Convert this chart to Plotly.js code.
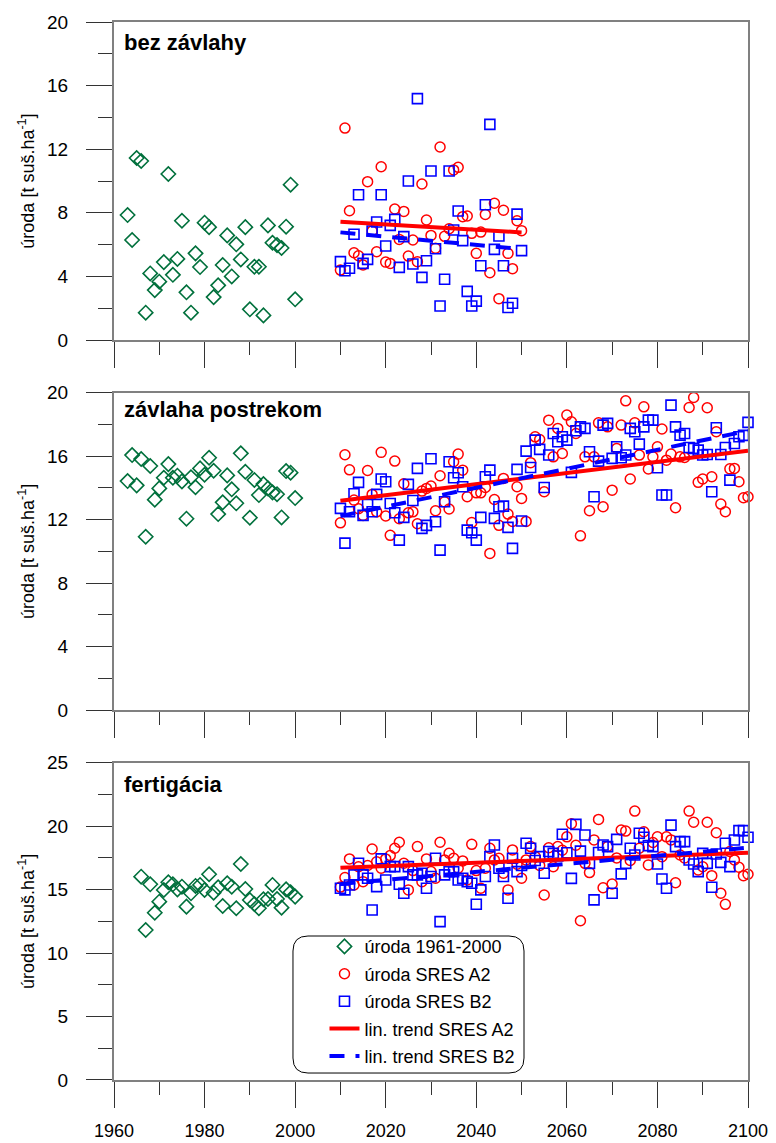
<!DOCTYPE html>
<html>
<head>
<meta charset="utf-8">
<script src="https://cdn.plot.ly/plotly-3.0.1.min.js"></script>
<style>html,body{margin:0;padding:0;background:#fff}</style>
</head>
<body>
<div id="chart" style="width:776px;height:1143px"></div>
<script>
// ---------- DATA ----------
const obsYears12 = [1963,1964,1965,1966,1967,1968,1969,1970,1971,1972,1973,1974,1975,1976,1977,1978,1979,1980,1981,1982,1983,1984,1985,1986,1987,1988,1989,1990,1991,1992,1993,1994,1995,1996,1997,1998,1999,2000];
const obsYears3 = [1966,1967,1968,1969,1970,1971,1972,1973,1974,1975,1976,1977,1978,1979,1980,1981,1982,1983,1984,1985,1986,1987,1988,1989,1990,1991,1992,1993,1994,1995,1996,1997,1998,1999,2000];
const futYears1 = [2010,2011,2012,2013,2014,2015,2016,2017,2018,2019,2020,2021,2022,2023,2024,2025,2026,2027,2028,2029,2030,2031,2032,2033,2034,2035,2036,2037,2038,2039,2040,2041,2042,2043,2044,2045,2046,2047,2048,2049,2050];
const futYears23 = [2010,2011,2012,2013,2014,2015,2016,2017,2018,2019,2020,2021,2022,2023,2024,2025,2026,2027,2028,2029,2030,2031,2032,2033,2034,2035,2036,2037,2038,2039,2040,2041,2042,2043,2044,2045,2046,2047,2048,2049,2050,2051,2052,2053,2054,2055,2056,2057,2058,2059,2060,2061,2062,2063,2064,2065,2066,2067,2068,2069,2070,2071,2072,2073,2074,2075,2076,2077,2078,2079,2080,2081,2082,2083,2084,2085,2086,2087,2088,2089,2090,2091,2092,2093,2094,2095,2096,2097,2098,2099,2100];
const trendYears1 = [2010, 2050];
const trendYears23 = [2010, 2100];

// Panel 1: bez závlahy
const obs1 = [7.86,6.29,11.45,11.26,1.72,4.19,3.14,3.67,4.9,10.44,4.1,5.1,7.5,3.0,1.72,5.45,4.59,7.38,7.1,2.7,3.44,4.72,6.58,4.0,6.02,5.07,7.1,1.93,4.61,4.61,1.55,7.21,6.12,5.97,5.79,7.13,9.77,2.56];
const a2_1 = [4.4,13.33,8.13,5.49,5.3,4.72,9.96,6.86,5.55,10.9,4.9,4.82,8.24,6.33,8.09,5.28,6.29,4.93,9.81,7.55,6.58,5.77,12.14,6.52,7.0,10.7,10.86,7.76,7.8,6.71,5.45,6.79,7.9,4.23,8.6,2.6,8.16,5.45,4.49,7.5,6.88];
const b2_1 = [4.93,4.36,4.51,6.65,9.14,4.82,5.07,6.86,7.42,9.14,5.91,7.21,7.59,4.57,6.5,10.0,4.78,15.18,3.94,4.99,10.63,5.74,2.14,3.82,10.63,6.92,8.11,6.25,3.06,2.14,2.45,4.67,8.51,13.56,5.7,6.54,4.67,2.05,2.31,7.92,5.62];
const trendA2_1 = [7.44, 6.77];
const trendB2_1 = [6.77, 5.72];

// Panel 2: závlaha postrekom
const obs2 = [14.43,16.07,14.16,15.82,10.92,15.38,13.26,13.97,14.64,15.5,14.64,14.77,14.41,12.06,14.67,14.04,15.23,14.83,15.9,15.08,12.35,13.09,14.79,13.91,13.03,16.18,15.02,12.12,14.5,13.55,14.24,13.97,13.72,13.6,12.14,15.06,14.96,13.36];
const a2_2 = [11.8,16.09,15.14,13.23,12.69,12.26,15.1,13.59,12.49,16.24,12.23,11.01,15.69,12.06,14.26,12.43,12.49,11.74,13.8,13.97,14.12,12.56,14.77,13.12,12.67,15.65,16.13,15.12,13.44,11.82,13.69,13.69,14.03,9.87,13.27,11.64,14.6,12.35,11.89,14.07,13.34,11.89,15.59,17.22,17.05,13.76,18.27,15.96,17.75,16.17,18.59,18.17,17.43,10.98,15.96,12.56,15.96,18.1,12.81,17.85,13.86,16.49,17.96,19.49,14.56,18.1,16.07,19.11,15.19,15.96,16.59,17.71,15.75,16.13,12.75,15.96,15.92,19.07,19.7,14.35,14.56,19.05,14.7,17.54,12.98,12.5,15.2,15.23,14.39,13.38,13.44];
const b2_2 = [12.71,10.52,12.5,13.63,14.35,12.27,12.96,12.5,13.59,14.56,14.39,13.02,12.43,10.71,12.14,14.22,13.21,15.23,11.45,11.64,15.84,11.87,10.08,13.13,15.65,14.64,14.96,14.07,11.34,11.17,10.71,12.14,14.7,15.12,12.08,12.81,12.85,11.51,10.19,15.17,11.91,16.32,15.29,17.01,16.43,14.03,16.07,17.43,16.91,17.22,17.01,14.98,17.6,17.85,17.75,16.28,13.44,15.69,17.96,18.07,15.86,16.59,15.9,16.07,17.75,17.54,16.76,17.85,18.27,18.27,15.27,13.55,13.55,19.22,17.85,17.33,17.43,16.55,16.49,16.38,16.07,16.11,13.76,17.79,16.11,16.55,14.49,16.8,17.22,17.31,18.13];
const trendA2_2 = [13.19, 16.34];
const trendB2_2 = [12.22, 17.6];

// Panel 3: fertigácia
const obs3 = [16.02,11.82,15.42,13.18,14.05,14.97,15.58,15.42,15.02,15.23,13.66,14.71,15.29,15.37,14.97,16.21,14.76,15.18,13.71,15.5,15.23,13.53,17.02,15.05,14.18,13.87,13.53,14.24,14.26,15.37,14.26,13.58,15.02,14.79,14.45];
const a2_3 = [15.2,15.95,17.42,15.37,16.8,15.63,16.9,18.2,17.2,16.68,17.42,17.68,18.26,18.73,17.08,14.98,16.5,18.39,15.63,17.42,16.42,15.9,18.73,17.34,17.87,17.47,16.68,17.26,15.76,18.57,16.5,15.11,16.68,18.26,17.34,17.47,16.3,14.98,18.13,17.0,15.9,17.34,18.39,17.6,16.9,14.58,18.3,16.8,18.4,18.1,19.16,20.2,18.5,12.55,17.07,16.34,18.92,20.53,15.15,18.4,15.44,17.5,19.69,19.61,17.3,21.19,18.26,19.56,16.95,18.71,19.16,17.6,19.16,18.92,15.54,17.73,17.5,21.19,20.31,16.55,16.8,20.31,16.1,19.48,14.71,13.84,18.0,17.34,16.76,16.1,16.21];
const b2_3 = [15.11,14.98,15.37,16.16,17.08,16.16,15.9,13.4,15.24,17.42,15.76,16.81,16.81,15.42,14.71,16.81,16.16,16.16,16.29,15.11,16.03,17.47,12.48,16.16,16.42,16.42,15.76,15.9,15.63,15.5,13.85,14.98,16.03,17.6,18.52,16.68,16.03,14.32,17.47,16.42,16.9,18.65,18.26,17.3,17.6,16.29,18.0,17.86,17.65,19.36,17.9,15.89,20.14,18.03,19.31,17.07,14.19,17.92,18.52,18.39,14.71,18.96,16.24,17.07,18.26,17.73,19.44,19.13,18.47,18.39,17.02,15.84,15.11,20.08,18.39,18.78,18.78,17.34,17.02,16.42,17.86,17.07,15.19,17.81,17.15,18.65,16.81,18.91,19.65,19.65,19.13];
const trendA2_3 = [16.73, 17.91];
const trendB2_3 = [15.45, 18.3];

const panelLabels = ['bez závlahy', 'závlaha postrekom', 'fertigácia'];
const seriesNames = ['úroda 1961-2000', 'úroda SRES A2', 'úroda SRES B2', 'lin. trend SRES A2', 'lin. trend SRES B2'];
const yTitle = 'úroda [t suš.ha<sup>-1</sup>]';

// ---------- STYLE ----------
const FONT = 'Arial, "Liberation Sans", sans-serif';
const GREEN = '#00703c', RED = '#ff0000', BLUE = '#0000ff';

const panels = [
  {obsX: obsYears12, obs: obs1, futX: futYears1, a2: a2_1, b2: b2_1, tX: trendYears1, tA: trendA2_1, tB: trendB2_1},
  {obsX: obsYears12, obs: obs2, futX: futYears23, a2: a2_2, b2: b2_2, tX: trendYears23, tA: trendA2_2, tB: trendB2_2},
  {obsX: obsYears3, obs: obs3, futX: futYears23, a2: a2_3, b2: b2_3, tX: trendYears23, tA: trendA2_3, tB: trendB2_3}
];

const traces = [];
panels.forEach((p, i) => {
  const xa = i === 0 ? 'x' : 'x' + (i + 1);
  const ya = i === 0 ? 'y' : 'y' + (i + 1);
  const show = i === 2;
  traces.push({x: p.obsX, y: p.obs, xaxis: xa, yaxis: ya, type: 'scatter', mode: 'markers', cliponaxis: false,
    name: seriesNames[0], legendgroup: 'g1', showlegend: show,
    marker: {symbol: 'diamond-open', size: 11, color: GREEN, line: {width: 1.6, color: GREEN}}});
  traces.push({x: p.futX, y: p.a2, xaxis: xa, yaxis: ya, type: 'scatter', mode: 'markers', cliponaxis: false,
    name: seriesNames[1], legendgroup: 'g2', showlegend: show,
    marker: {symbol: 'circle-open', size: 10, color: RED, line: {width: 1.5, color: RED}}});
  traces.push({x: p.futX, y: p.b2, xaxis: xa, yaxis: ya, type: 'scatter', mode: 'markers', cliponaxis: false,
    name: seriesNames[2], legendgroup: 'g3', showlegend: show,
    marker: {symbol: 'square-open', size: 10, color: BLUE, line: {width: 1.6, color: BLUE}}});
  traces.push({x: p.tX, y: p.tA, xaxis: xa, yaxis: ya, type: 'scatter', mode: 'lines', cliponaxis: false,
    name: seriesNames[3], legendgroup: 'g4', showlegend: show,
    line: {color: RED, width: 4}});
  traces.push({x: p.tX, y: p.tB, xaxis: xa, yaxis: ya, type: 'scatter', mode: 'lines', cliponaxis: false,
    name: seriesNames[4], legendgroup: 'g5', showlegend: show,
    line: {color: BLUE, width: 4, dash: '15px,11px'}});
});

function xAxis(showLabels) {
  return {
    range: [1960, 2100], showgrid: false, zeroline: false,
    showline: true, mirror: true, linecolor: '#808080', linewidth: 2,
    ticks: 'outside', ticklen: 26, tickwidth: 1, tickcolor: '#333',
    tick0: 1960, dtick: 20, showticklabels: showLabels, ticklabelstandoff: 7,
    tickfont: {family: FONT, size: 18, color: '#000'},
    minor: {ticks: 'outside', ticklen: 13, tickwidth: 1, tickcolor: '#333', dtick: 10, showgrid: false}
  };
}
function yAxis(domain, max, major, minor) {
  return {
    domain: domain, range: [0, max], showgrid: false, zeroline: false,
    showline: true, mirror: true, linecolor: '#808080', linewidth: 2,
    ticks: 'outside', ticklen: 26, tickwidth: 1, tickcolor: '#333',
    tick0: 0, dtick: major, ticklabelstandoff: 14,
    tickfont: {family: FONT, size: 19, color: '#000'},
    minor: {ticks: 'outside', ticklen: 14, tickwidth: 1, tickcolor: '#333', dtick: minor, showgrid: false},
    title: {text: yTitle, font: {family: FONT, size: 18, color: '#000'}, standoff: 8}
  };
}

// plot area in px: 634 x 1058
const PW = 634, PH = 1058;
function roundRect(x0, x1, y0, y1, rpx) {
  const rx = rpx / PW, ry = rpx / PH;
  return `M${x0 + rx},${y1} L${x1 - rx},${y1} Q${x1},${y1} ${x1},${y1 - ry} L${x1},${y0 + ry} Q${x1},${y0} ${x1 - rx},${y0} L${x0 + rx},${y0} Q${x0},${y0} ${x0},${y0 + ry} L${x0},${y1 - ry} Q${x0},${y1} ${x0 + rx},${y1} Z`;
}

const labelY = [0.935, 0.948, 0.93];
const annotations = panelLabels.map((t, i) => ({
  text: '<b>' + t + '</b>', xref: (i === 0 ? 'x' : 'x' + (i + 1)) + ' domain', yref: (i === 0 ? 'y' : 'y' + (i + 1)) + ' domain',
  x: 0.012, y: labelY[i], xanchor: 'left', yanchor: 'middle', showarrow: false,
  font: {family: FONT, size: 22, color: '#000'}
}));

const layout = {
  width: 776, height: 1143,
  margin: {l: 114, r: 28, t: 22, b: 63},
  paper_bgcolor: '#fff', plot_bgcolor: '#fff',
  font: {family: FONT, color: '#000'},
  xaxis: Object.assign(xAxis(false), {anchor: 'y'}),
  xaxis2: Object.assign(xAxis(false), {anchor: 'y2'}),
  xaxis3: Object.assign(xAxis(true), {anchor: 'y3'}),
  yaxis: Object.assign(yAxis([0.6994, 1.0], 20, 4, 2), {anchor: 'x'}),
  yaxis2: Object.assign(yAxis([0.3497, 0.6496], 20, 4, 2), {anchor: 'x2'}),
  yaxis3: Object.assign(yAxis([0, 0.2999], 25, 5, 2.5), {anchor: 'x3'}),
  showlegend: true,
  legend: {
    x: 0.332, y: 0.1435, xanchor: 'left', yanchor: 'top',
    bgcolor: 'rgba(0,0,0,0)', borderwidth: 0,
    traceorder: 'grouped', tracegroupgap: 1,
    font: {family: FONT, size: 18, color: '#000'}
  },
  shapes: [{
    type: 'path', xref: 'paper', yref: 'paper', layer: 'above',
    path: roundRect(0.2823, 0.6467, 0.0066, 0.1361, 15),
    line: {color: '#000', width: 1}, fillcolor: 'rgba(255,255,255,0)'
  }],
  annotations: annotations
};

Plotly.newPlot('chart', traces, layout, {displayModeBar: false, staticPlot: true});
</script>
</body>
</html>
